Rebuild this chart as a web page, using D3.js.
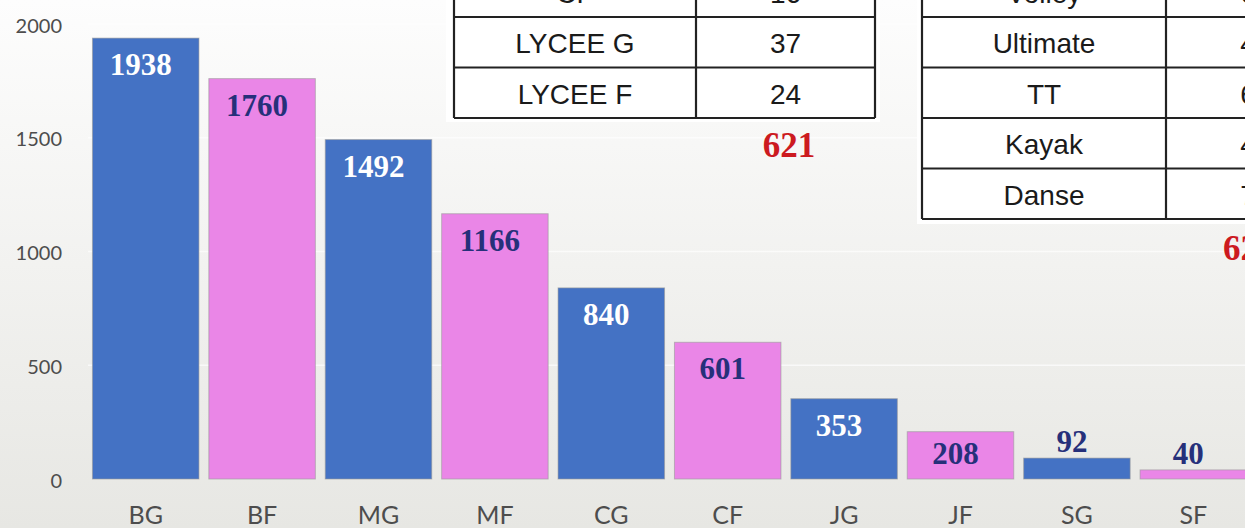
<!DOCTYPE html>
<html>
<head>
<meta charset="utf-8">
<script src="https://cdn.jsdelivr.net/npm/d3@7"></script>
<style>
  body { margin: 0; overflow: hidden; }
  svg { display: block; }
</style>
</head>
<body>
<div id="chart"></div>
<script>
var width = 1245,
    height = 528;

// data
var categories = ["BG", "BF", "MG", "MF", "CG", "CF", "JG", "JF", "SG", "SF"];
var values = [1938, 1760, 1492, 1166, 840, 601, 353, 208, 92, 40];
var yTicks = [0, 500, 1000, 1500, 2000];

// the two pasted tables (partly cut by the slide edge)
var table1Labels = ["CF", "LYCEE G", "LYCEE F"];
var table1Values = ["16", "37", "24"];
var table2Labels = ["Volley", "Ultimate", "TT", "Kayak", "Danse"];
var table2Values = ["6", "4", "6", "4", "7"];
var totals = ["621", "621"];

var blue = "#4472c4",
    pink = "#ea86e7",
    navy = "#26307a",
    red = "#cc1a1f";

var svg = d3.select("#chart").append("svg")
    .attr("width", width)
    .attr("height", height);

var defs = svg.append("defs");
var grad = defs.append("linearGradient")
    .attr("id", "bg")
    .attr("x1", 0).attr("y1", 0).attr("x2", 0).attr("y2", 1);
grad.append("stop").attr("offset", "0%").attr("stop-color", "#fdfdfd");
grad.append("stop").attr("offset", "100%").attr("stop-color", "#e7e7e3");

svg.append("rect")
    .attr("width", width)
    .attr("height", height)
    .attr("fill", "url(#bg)");

var x = d3.scaleBand()
    .domain(categories)
    .range([87.5, 1251.5])
    .paddingInner(0.085)
    .paddingOuter(0.0425);

var y = d3.scaleLinear()
    .domain([0, 2000])
    .range([479, 24]);

// gridlines
svg.append("g")
    .selectAll("line")
    .data(yTicks.slice(1))
    .enter().append("line")
    .attr("x1", 88)
    .attr("x2", width)
    .attr("y1", function(d) { return y(d); })
    .attr("y2", function(d) { return y(d); })
    .attr("stroke", "#ffffff")
    .attr("stroke-width", 1.5)
    .attr("opacity", 0.7);

// y axis labels
var yAxis = d3.axisLeft(y)
    .tickValues(yTicks)
    .tickFormat(d3.format("d"))
    .tickSize(0)
    .tickPadding(0);

var ya = svg.append("g")
    .attr("transform", "translate(62,0)")
    .call(yAxis);
ya.select(".domain").remove();
ya.selectAll("text")
    .attr("dy", null)
    .attr("y", 8)
    .attr("fill", "#4d4d4d")
    .style("font-family", "Lato, 'Open Sans', sans-serif")
    .style("font-size", "20px");

// bars
svg.append("g")
    .selectAll("rect")
    .data(values)
    .enter().append("rect")
    .attr("x", function(d, i) { return x(categories[i]); })
    .attr("y", function(d) { return y(d); })
    .attr("width", x.bandwidth())
    .attr("height", function(d) { return y(0) - y(d); })
    .attr("fill", function(d, i) { return i % 2 === 0 ? blue : pink; })
    .attr("stroke", "#9a9a9a")
    .attr("stroke-opacity", 0.6)
    .attr("stroke-width", 1);

// x axis labels
var xAxis = d3.axisBottom(x).tickSize(0).tickPadding(0);
var xa = svg.append("g")
    .attr("transform", "translate(0,524)")
    .call(xAxis);
xa.select(".domain").remove();
xa.selectAll("text")
    .attr("dy", null)
    .attr("y", 0)
    .attr("fill", "#4d4d4d")
    .style("font-family", "Lato, 'Open Sans', sans-serif")
    .style("font-size", "25px");

// value labels
svg.append("g")
    .selectAll("text")
    .data(values)
    .enter().append("text")
    .attr("x", function(d, i) { return x(categories[i]) + x.bandwidth() / 2 - 5; })
    .attr("y", function(d) {
      var h = y(0) - y(d);
      if (h < 30) return y(d) - 6;
      return y(d) + Math.min(37, h - 15);
    })
    .attr("text-anchor", "middle")
    .attr("fill", function(d, i) {
      var h = y(0) - y(d);
      if (h < 30) return navy;
      return i % 2 === 0 ? "#ffffff" : navy;
    })
    .style("font-family", "'Liberation Serif', 'Times New Roman', serif")
    .style("font-weight", "bold")
    .style("font-size", "31px")
    .text(function(d) { return d; });

// tables
function drawTable(left, mid, right, rowH, firstLine, labels, vals, bgRect) {
  var g = svg.append("g");
  g.append("rect")
      .attr("x", bgRect[0]).attr("y", bgRect[1])
      .attr("width", bgRect[2]).attr("height", bgRect[3])
      .attr("fill", "#ffffff");
  var top = firstLine - rowH;
  var n = labels.length;
  var bottom = top + n * rowH;
  var lines = d3.range(1, n + 1).map(function(k) { return top + k * rowH; });
  g.selectAll(".hl")
      .data(lines)
      .enter().append("line")
      .attr("x1", left).attr("x2", right)
      .attr("y1", function(d) { return d; })
      .attr("y2", function(d) { return d; })
      .attr("stroke", "#222").attr("stroke-width", 2.2);
  [left, mid, right].forEach(function(xx) {
    g.append("line")
        .attr("x1", xx).attr("x2", xx)
        .attr("y1", top).attr("y2", bottom)
        .attr("stroke", "#222").attr("stroke-width", 2.2);
  });
  g.selectAll(".lab")
      .data(labels)
      .enter().append("text")
      .attr("x", (left + mid) / 2)
      .attr("y", function(d, i) { return top + (i + 0.5) * rowH + 11; })
      .attr("text-anchor", "middle")
      .attr("fill", "#1a1a1a")
      .style("font-family", "'Liberation Sans', Arial, sans-serif")
      .style("font-size", "28px")
      .text(function(d) { return d; });
  g.selectAll(".val")
      .data(vals)
      .enter().append("text")
      .attr("x", (mid + right) / 2)
      .attr("y", function(d, i) { return top + (i + 0.5) * rowH + 11; })
      .attr("text-anchor", "middle")
      .attr("fill", "#1a1a1a")
      .style("font-family", "'Liberation Sans', Arial, sans-serif")
      .style("font-size", "28px")
      .text(function(d) { return d; });
}

drawTable(454, 696, 875, 50.5, 17, table1Labels, table1Values, [446, 0, 434, 122]);
drawTable(922, 1166, 1330, 50.5, 17, table2Labels, table2Values, [917, 0, 330, 224]);

// red totals
svg.append("text")
    .attr("x", 789).attr("y", 157)
    .attr("text-anchor", "middle")
    .attr("fill", red)
    .style("font-family", "'Liberation Serif', 'Times New Roman', serif")
    .style("font-weight", "bold")
    .style("font-size", "35px")
    .text(totals[0]);

svg.append("text")
    .attr("x", 1223).attr("y", 260)
    .attr("text-anchor", "start")
    .attr("fill", red)
    .style("font-family", "'Liberation Serif', 'Times New Roman', serif")
    .style("font-weight", "bold")
    .style("font-size", "35px")
    .text(totals[1]);
</script>
</body>
</html>
